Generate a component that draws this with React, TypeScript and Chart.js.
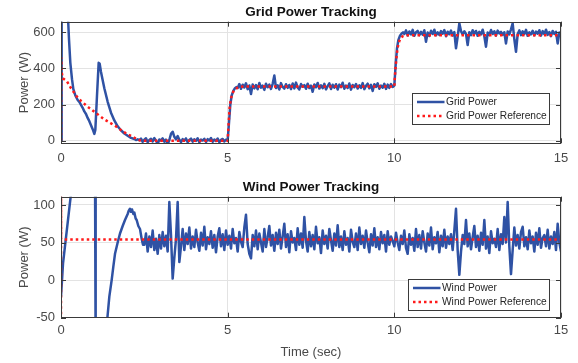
import React, { useEffect, useRef } from "react";
import { Chart, registerables } from "chart.js";

Chart.register(...registerables);

const FONT = '"Liberation Sans", Arial, Helvetica, sans-serif';
const BLUE = "#2f52a4";
const RED = "#ff1a1a";
const GRID = "#e3e3e3";
const AXIS = "#3a3a3a";
const TICK = "#4a4a4a";

// ---- axes ----
const timeTicks = [0, 5, 10, 15];
const gridTicks = [0, 200, 400, 600];
const windTicks = [-50, 0, 50, 100];
const NOISE_STEP = 0.05;

// ---- Grid power (W) ----
const gridPowerHead: [number, number][] = [
  [0, 0], [0.02, 900], [0.15, 900], [0.2, 720], [0.24, 560], [0.28, 430], [0.33, 340],
  [0.37, 285], [0.43, 250], [0.5, 225], [0.55, 214], [0.6, 198], [0.65, 182], [0.7, 162],
  [0.75, 148], [0.8, 126], [0.85, 108], [0.9, 86], [0.95, 64], [1.0, 38], [1.03, 60],
  [1.08, 250], [1.13, 430], [1.16, 425], [1.2, 380], [1.3, 290], [1.4, 215], [1.5, 155],
  [1.6, 112], [1.7, 80], [1.8, 58], [1.9, 40], [2.0, 28], [2.1, 16], [2.2, 10], [2.25, 4],
];
const gridPowerLowStart = 2.3;
const gridPowerLow = [
  8, 3, 12, -6, 6, 14, -8, 4, 11, -4,
  15, 0, -18, 7, 2, 13, -5, 6, -20, 4,
  38, 50, 22, 8, 26, 6, -7, 9, 1, 13,
  -8, 4, 12, -5, 8, -1, 14, -9, 6, 1,
  11, -7, 9, 2, 15, -6, 7, -1, 12, -8,
  5, 10, -4, 6,
];
const gridPowerRise1: [number, number][] = [
  [5.0, 2], [5.04, 100], [5.08, 200], [5.12, 250], [5.17, 275], [5.22, 290], [5.26, 296],
];
const gridPowerMidStart = 5.3;
const gridPowerMid = [
  291, 313, 287, 309, 294, 317, 285, 305, 258, 311,
  289, 307, 284, 319, 293, 304, 281, 315, 295, 310,
  286, 314, 360, 291, 306, 283, 318, 297, 288, 312,
  292, 308, 285, 316, 289, 321, 294, 283, 313, 298,
  307, 287, 315, 291, 304, 270, 311, 295, 319, 288,
  306, 290, 314, 284, 301, 317, 286, 309, 293, 312,
  283, 310, 296, 320, 287, 305, 291, 316, 282, 308,
  295, 313, 288, 306, 292, 318, 285, 303, 315, 290,
  309, 275, 312, 297, 317, 287, 305, 293, 314, 286,
  310, 292, 313, 297,
];
const gridPowerRise2: [number, number][] = [
  [10.0, 305], [10.04, 420], [10.08, 510], [10.12, 555], [10.17, 580], [10.22, 592], [10.26, 598],
];
const gridPowerHighStart = 10.3;
const gridPowerHigh = [
  589, 609, 581, 603, 587, 612, 579, 599, 606, 583,
  601, 585, 610, 546, 597, 578, 607, 589, 613, 582,
  598, 584, 605, 591, 611, 577, 602, 588, 608, 581,
  600, 510, 575, 648, 605, 586, 604, 590, 528, 599,
  583, 610, 590, 606, 579, 601, 587, 613, 577, 519,
  597, 584, 611, 589, 604, 580, 608, 592, 601, 585,
  599, 537, 603, 587, 615, 648, 560, 491, 589, 609,
  583, 604, 589, 612, 579, 598, 587, 607, 582, 602,
  591, 610, 580, 605, 588, 613, 584, 600, 577, 606,
  589, 601, 537, 597, 587,
];
const gridPowerReference: [number, number][] = [
  [0, 0], [0.005, 460], [0.02, 380], [0.05, 345], [0.17, 330], [0.3, 290], [0.47, 245],
  [0.6, 220], [0.8, 188], [1.07, 150], [1.3, 118], [1.5, 96], [1.67, 77], [1.85, 52],
  [2.0, 36], [2.17, 20], [2.3, 7], [2.4, 0], [5.0, 0], [5.03, 100], [5.06, 185], [5.1, 235],
  [5.16, 268], [5.22, 285], [5.3, 293], [5.4, 298], [5.5, 300], [10.0, 300], [10.03, 390],
  [10.07, 470], [10.1, 515], [10.15, 550], [10.2, 570], [10.27, 578], [10.4, 582], [15, 582],
];

// ---- Wind power (W) ----
const windPowerHead: [number, number][] = [
  [0, -22], [0.03, 0], [0.06, 22], [0.3, 115], [0.6, 250], [0.95, 300], [1.02, 150],
  [1.04, -100], [1.2, -250], [1.38, -60], [1.39, -51], [1.45, -22], [1.52, 0], [1.57, 18],
  [1.62, 35], [1.7, 50], [1.77, 62], [1.85, 72], [1.92, 80], [1.97, 85], [2.0, 88],
  [2.03, 92], [2.07, 95], [2.1, 91], [2.13, 94], [2.17, 88], [2.2, 90], [2.24, 82],
  [2.27, 80], [2.32, 72], [2.37, 68], [2.42, 55], [2.46, 47],
];
const windPowerNoiseStart = 2.5;
const windPowerNoise = [
  47, 62, 38, 58, 44, 66, 40, 55, 35, 60,
  42, 64, 45, 59, 38, 104, 60, 2, 30, 55,
  104, 24, 45, 68, 40, 62, 48, 70, 42, 58,
  44, 67, 50, 39, 63, 46, 71, 41, 57, 48,
  65, 43, 60, 37, 58, 69, 45, 61, 40, 66,
  47, 59, 42, 68, 49, 56, 38, 64, 51, 44,
  70, 87, 48, 35, 29, 60, 45, 66, 41, 62,
  50, 38, 68, 44, 57, 72, 46, 60, 39, 63,
  48, 67, 42, 58, 75, 44, 61, 37, 65, 50,
  56, 40, 69, 47, 62, 43, 84, 52, 38, 64,
  45, 60, 41, 71, 49, 57, 36, 66, 48, 59,
  42, 68, 53, 39, 62, 46, 73, 44, 58, 40,
  65, 47, 56, 38, 67, 51, 44, 62, 40, 70,
  48, 59, 43, 66, 50, 37, 61, 46, 69, 44,
  57, 41, 64, 49, 60, 38, 65, 47, 58, 52,
  45, 63, 50, 40, 59, 48, 66, 43, 35, 61,
  47, 56, 39, 68, 44, 60, 42, 65, 50, 38,
  62, 46, 70, 41, 57, 49, 64, 37, 59, 45,
  67, 43, 58, 48, 61, 40, 66, 95, 40, 7,
  38, 60, 48, 80, 45, 62, 41, 57, 72, 44,
  59, 39, 63, 47, 80, 42, 58, 36, 65, 49,
  55, 44, 68, 40, 61, 48, 84, 50, 104, 45,
  8, 40, 70, 46, 60, 42, 64, 71, 45, 57,
  41, 66, 49, 58, 38, 63, 47, 69, 43, 56,
  60, 45, 67, 42, 58, 48, 64, 40, 75, 50,
  38,
];
const windPowerReference: [number, number][] = [
  [0, -60], [0, 130], [0.005, 54], [15, 54],
];

const pts = (pairs: [number, number][]) => pairs.map(([x, y]) => ({ x, y }));
const seg = (start: number, values: number[]) =>
  values.map((y, i) => ({ x: Math.round((start + i * NOISE_STEP) * 1000) / 1000, y }));

const gridSeries = [
  ...pts(gridPowerHead),
  ...seg(gridPowerLowStart, gridPowerLow),
  ...pts(gridPowerRise1),
  ...seg(gridPowerMidStart, gridPowerMid),
  ...pts(gridPowerRise2),
  ...seg(gridPowerHighStart, gridPowerHigh),
];
const windSeries = [...pts(windPowerHead), ...seg(windPowerNoiseStart, windPowerNoise)];

const framePlugin = {
  id: "frame",
  afterDatasetsDraw(chart: any, _args: any, opts: any) {
    const { ctx, chartArea: a, scales } = chart;
    ctx.save();
    ctx.strokeStyle = AXIS;
    ctx.lineWidth = 1;
    const tl = 5;
    const line = (x1: number, y1: number, x2: number, y2: number) => {
      ctx.beginPath();
      ctx.moveTo(x1, y1);
      ctx.lineTo(x2, y2);
      ctx.stroke();
    };
    for (const t of scales.x.ticks) {
      const px = Math.round(scales.x.getPixelForValue(t.value)) + 0.5;
      line(px, a.top, px, a.top + tl);
      line(px, a.bottom, px, a.bottom - tl);
    }
    for (const t of scales.y.ticks) {
      const py = Math.round(scales.y.getPixelForValue(t.value)) + 0.5;
      line(a.left, py, a.left + tl, py);
      line(a.right, py, a.right - tl, py);
    }
    ctx.strokeRect(Math.round(a.left) + 0.5, Math.round(a.top) + 0.5, Math.round(a.right - a.left) - 1, Math.round(a.bottom - a.top) - 1);

    // title
    ctx.fillStyle = "#111";
    ctx.font = `bold 13.5px ${FONT}`;
    ctx.textAlign = "center";
    ctx.textBaseline = "middle";
    ctx.fillText(opts.title, (a.left + a.right) / 2, a.top - 9.5);

    // legend
    ctx.font = `10.2px ${FONT}`;
    ctx.textAlign = "left";
    const ds = chart.data.datasets;
    const textW = Math.max(...ds.map((d: any) => ctx.measureText(d.label).width));
    const padL = 4.5, sample = 27.5, gap = 1.5, padR = 2.5;
    const w = padL + sample + gap + textW + padR;
    const h = 31;
    const right = a.right - opts.legendRight;
    const bottom = a.bottom - opts.legendBottom;
    const left = Math.round(right - w) + 0.5;
    const top = Math.round(bottom - h) + 0.5;
    ctx.fillStyle = "#fff";
    ctx.fillRect(left, top, Math.round(w), h);
    ctx.strokeStyle = AXIS;
    ctx.lineWidth = 1;
    ctx.strokeRect(left, top, Math.round(w), h);
    ds.forEach((d: any, i: number) => {
      const y = top + 8.5 + i * 14;
      ctx.save();
      ctx.strokeStyle = d.borderColor;
      ctx.lineWidth = d.borderWidth;
      ctx.setLineDash(d.borderDash || []);
      ctx.beginPath();
      ctx.moveTo(left + padL, y);
      ctx.lineTo(left + padL + sample, y);
      ctx.stroke();
      ctx.restore();
      ctx.fillStyle = "#262626";
      ctx.textBaseline = "middle";
      ctx.fillText(d.label, left + padL + sample + gap, y);
    });
    ctx.restore();
  },
};

function makeConfig(o: any): any {
  return {
    type: "line",
    data: {
      datasets: [
        {
          label: o.blueLabel,
          data: o.blue,
          borderColor: BLUE,
          borderWidth: 2.5,
          borderJoinStyle: "round",
          pointRadius: 0,
          tension: 0,
          order: 2,
        },
        {
          label: o.redLabel,
          data: o.red,
          borderColor: RED,
          borderWidth: 2.5,
          borderDash: [2.5, 3],
          pointRadius: 0,
          tension: 0,
          order: 1,
        },
      ],
    },
    options: {
      responsive: false,
      animation: false,
      events: [],
      layout: { padding: { top: o.padTop, right: 17, left: 0, bottom: 0 } },
      plugins: {
        legend: { display: false },
        tooltip: { enabled: false },
        title: { display: false },
        frame: { title: o.title, legendRight: 12.3, legendBottom: o.legendBottom },
      },
      scales: {
        x: {
          type: "linear",
          min: 0,
          max: 15,
          afterBuildTicks: (s: any) => {
            s.ticks = timeTicks.map((v) => ({ value: v }));
          },
          afterFit: (s: any) => {
            s.height = o.xHeight;
            s.paddingLeft = 0;
            s.paddingRight = 0;
          },
          grid: { color: GRID, drawTicks: false, lineWidth: 1 },
          border: { display: false },
          ticks: { padding: o.xTickPad, autoSkip: false, maxRotation: 0, font: { family: FONT, size: 13 }, color: TICK },
          title: {
            display: !!o.xTitle,
            text: o.xTitle || "",
            font: { family: FONT, size: 13 },
            color: TICK,
            padding: { top: 0, bottom: 3.2 },
          },
        },
        y: {
          type: "linear",
          min: o.yMin,
          max: o.yMax,
          afterBuildTicks: (s: any) => {
            s.ticks = o.yTicks.map((v: number) => ({ value: v }));
          },
          afterFit: (s: any) => {
            s.width = 61;
            s.paddingTop = 0;
            s.paddingBottom = 0;
          },
          grid: { color: GRID, drawTicks: false, lineWidth: 1 },
          border: { display: false },
          ticks: { padding: 6, autoSkip: false, font: { family: FONT, size: 13 }, color: TICK },
          title: {
            display: true,
            text: "Power (W)",
            font: { family: FONT, size: 13 },
            color: TICK,
            padding: { top: 16.7, bottom: 0 },
          },
        },
      },
    },
    plugins: [framePlugin],
  };
}

export default function App() {
  const topRef = useRef<HTMLCanvasElement>(null);
  const botRef = useRef<HTMLCanvasElement>(null);

  useEffect(() => {
    const c1 = new Chart(
      topRef.current as HTMLCanvasElement,
      makeConfig({
        blue: gridSeries,
        red: pts(gridPowerReference),
        blueLabel: "Grid Power",
        redLabel: "Grid Power Reference",
        yMin: -14,
        yMax: 657,
        yTicks: gridTicks,
        title: "Grid Power Tracking",
        padTop: 21.7,
        xHeight: 26.7,
        xTickPad: 7,
        legendBottom: 19.3,
      })
    );
    const c2 = new Chart(
      botRef.current as HTMLCanvasElement,
      makeConfig({
        blue: windSeries,
        red: pts(windPowerReference),
        blueLabel: "Wind Power",
        redLabel: "Wind Power Reference",
        yMin: -50,
        yMax: 111,
        yTicks: windTicks,
        title: "Wind Power Tracking",
        padTop: 21.7,
        xHeight: 45.3,
        xTickPad: 5,
        xTitle: "Time (sec)",
        legendBottom: 7.7,
      })
    );
    return () => {
      c1.destroy();
      c2.destroy();
    };
  }, []);

  return (
    <div style={{ position: "absolute", left: 0, top: 0, width: 578, height: 363, background: "#fff" }}>
      <canvas
        ref={topRef}
        width={578}
        height={170}
        style={{ position: "absolute", left: 0, top: 0, width: 578, height: 170, display: "block" }}
      />
      <canvas
        ref={botRef}
        width={578}
        height={188}
        style={{ position: "absolute", left: 0, top: 175, width: 578, height: 188, display: "block" }}
      />
    </div>
  );
}
